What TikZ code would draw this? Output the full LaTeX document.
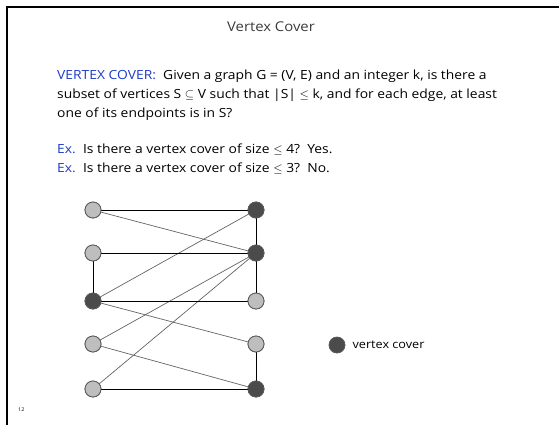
\documentclass[tikz,border=0pt]{standalone}
\usepackage{fontspec}
\setmainfont{Open Sans}[FakeStretch=1.1]
\definecolor{vcblue}{RGB}{30,60,200}
\definecolor{lightv}{RGB}{190,190,190}
\definecolor{darkv}{RGB}{75,75,75}
\definecolor{vborder}{RGB}{90,90,90}
\definecolor{thinedge}{RGB}{100,100,100}
\definecolor{titlegray}{RGB}{60,60,60}
\begin{document}
\begin{tikzpicture}[x=1pt,y=-1pt,
  vlight/.style={circle,draw=vborder,fill=lightv,line width=0.8pt,minimum size=16pt,inner sep=0pt},
  vdark/.style={circle,draw=vborder,fill=darkv,line width=0.8pt,minimum size=16pt,inner sep=0pt},
  thick edge/.style={draw=black,line width=1pt},
  thin edge/.style={draw=thinedge,line width=0.7pt},
  txt/.style={anchor=base west,inner sep=0pt,font=\fontsize{12.6}{15}\selectfont}]
\useasboundingbox (0,0) rectangle (559,424);
\draw[line width=2.2pt,line cap=rect] (7,424) -- (7,7) -- (559,7);
\node[font=\fontsize{13.5}{16}\selectfont,text=titlegray] (title) at (271,27) {Vertex Cover};
\node[txt] (l1) at (57,79) {\textcolor{vcblue}{VERTEX COVER:}\ \ Given a graph G = (V, E) and an integer k, is there a};
\node[txt] (l2) at (57,98) {subset of vertices S $\subseteq$ V such that |S| $\le$ k, and for each edge, at least};
\node[txt] (l3) at (57,117) {one of its endpoints is in S?};
\node[txt] (ex1) at (57,153) {\textcolor{vcblue}{Ex.}\ \ Is there a vertex cover of size $\le$ 4?\ \ Yes.};
\node[txt] (ex2) at (57,172) {\textcolor{vcblue}{Ex.}\ \ Is there a vertex cover of size $\le$ 3?\ \ No.};
% vertices
\node[vlight] (L1) at (93,210) {};
\node[vlight] (L2) at (93,253) {};
\node[vdark]  (L3) at (93,301) {};
\node[vlight] (L4) at (93,344) {};
\node[vlight] (L5) at (93,389) {};
\node[vdark]  (R1) at (256,210) {};
\node[vdark]  (R2) at (256,253) {};
\node[vlight] (R3) at (256,301) {};
\node[vlight] (R4) at (256,344) {};
\node[vdark]  (R5) at (256,389) {};
% edges drawn then nodes redrawn on top
\path[thin edge] (L1.center) -- (R2.center);
\path[thin edge] (R1.center) -- (L3.center);
\path[thin edge] (L3.center) -- (R4.center);
\path[thin edge] (L4.center) -- (R2.center);
\path[thin edge] (L5.center) -- (R2.center);
\path[thin edge] (L4.center) -- (R5.center);
\path[thick edge] (L1) -- (R1);
\path[thick edge] (L2) -- (R2);
\path[thick edge] (L3) -- (R3);
\path[thick edge] (L5) -- (R5);
\path[thick edge] (L2) -- (L3);
\path[thick edge] (R1) -- (R2);
\path[thick edge] (R2) -- (R3);
\path[thick edge] (R4) -- (R5);
\foreach \n in {L1,L2,L4,L5,R3,R4} \node[vlight] at (\n) {};
\foreach \n in {L3,R1,R2,R5} \node[vdark] at (\n) {};
% legend
\node[vdark] (leg) at (337,345) {};
\node[anchor=west,inner sep=0pt,font=\fontsize{11.5}{13}\selectfont] (legt) at ([xshift=7pt]leg.east) {vertex cover};
\node[anchor=base west,inner sep=0pt,font=\fontsize{5}{6}\selectfont] (pg) at (18,411) {12};
\end{tikzpicture}
\end{document}
